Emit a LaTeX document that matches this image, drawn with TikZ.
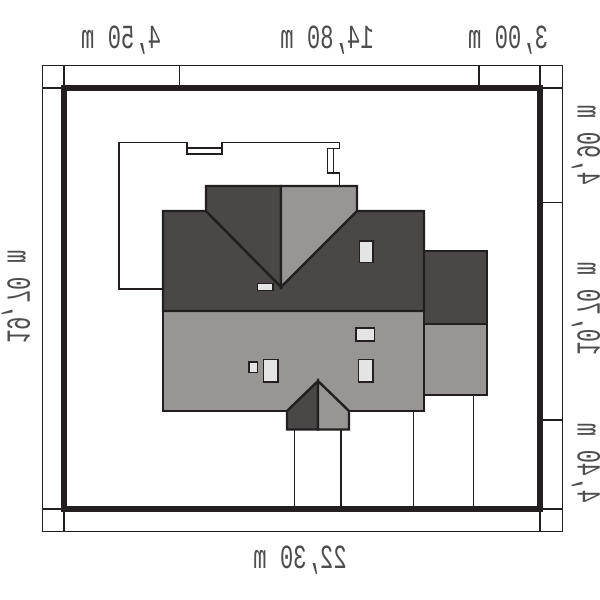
\documentclass[tikz,border=0pt]{standalone}
\usepackage{fontspec}
\setmonofont{Liberation Mono}
\begin{document}
\begin{tikzpicture}[x=.1mm,y=-.1mm,
  roofline/.style={draw=linecol,line width=.24mm,line join=miter},
  dark roof/.style={roofline,fill=roofdark},
  light roof/.style={roofline,fill=rooflight},
  roofwindow/.style={draw=linecol,line width=.17mm,fill=glass},
  thin line/.style={draw=linecol,line width=.16mm},
  dim label/.style={font=\ttfamily\fontsize{9.6}{12}\selectfont,text=linecol!80,inner sep=0pt,transform shape},
  top label/.style={dim label,xscale=-.66},
  side label/.style={dim label,rotate=90,xscale=.66,yscale=-1}]
  \definecolor{linecol}{HTML}{231F20}
  \definecolor{roofdark}{HTML}{4A4746}
  \definecolor{rooflight}{HTML}{979695}
  \definecolor{glass}{HTML}{E4E4E4}
  \useasboundingbox (0,0) rectangle (600,600);

  % labels
  \node[top label] (w1) at (121,40) {4,50 m};
  \node[top label] (w2) at (327,40) {14,80 m};
  \node[top label] (w3) at (508,40) {3,00 m};
  \node[top label] (w4) at (300,560) {22,30 m};
  \node[side label] (h1) at (16,297) {19,70 m};
  \node[side label] (r1) at (586,145) {4,90 m};
  \node[side label] (r2) at (586,309) {10,70 m};
  \node[side label] (r3) at (586,463) {4,40 m};

  % plot frame
  \draw[thin line] (42.5,65.5) rectangle (562.5,531.5);
  \draw[thin line] (64,65.5) -- (64,88) (540,65.5) -- (540,88)
   (64,509) -- (64,531.5) (540,509) -- (540,531.5)
   (42.5,88) -- (64,88) (540,88) -- (562.5,88)
   (42.5,509) -- (64,509) (540,509) -- (562.5,509)
   (179.5,65.5) -- (179.5,88) (479,65.5) -- (479,88)
   (540,202.5) -- (562.5,202.5) (540,420) -- (562.5,420);
  \draw[draw=linecol,line width=.6mm] (64,88) rectangle (540,509);

  % terrace
  \draw[thin line] (163,289) -- (119,289) -- (119,142.5) -- (339.5,142.5) -- (339.5,186);
  \draw[thin line,fill=white] (187,142.5) -- (187,154) -- (222,154) -- (222,142.5);
  \draw[thin line] (187,148) -- (222,148);
  \draw[thin line,fill=white] (339.5,148.5) -- (327.5,148.5) -- (327.5,173) -- (339.5,173);
  \draw[thin line] (333.5,148.5) -- (333.5,173);

  % lines down to the plot edge
  \draw[thin line] (294.5,429) -- (294.5,509) (341,429) -- (341,509)
   (413.5,411) -- (413.5,509) (473.5,395) -- (473.5,509);

  % roof
  \path[dark roof] (424,251) rectangle (487,324);
  \path[light roof] (424,324) rectangle (487,395);
  \path[light roof] (163,311) rectangle (424,411);
  \path[dark roof] (163,211) -- (206,211) -- (281,287) -- (357,211) -- (424,211) -- (424,311) -- (163,311) -- cycle;
  \path[dark roof] (206,211) -- (206,186) -- (281,186) -- (281,287) -- cycle;
  \path[light roof] (281,186) -- (357,186) -- (357,211) -- (281,287) -- cycle;
  \path[dark roof] (287,411) -- (318,381) -- (318,429.5) -- (287,429.5) -- cycle;
  \path[light roof] (318,381) -- (349,411) -- (349,429.5) -- (318,429.5) -- cycle;

  % windows
  \path[roofwindow] (257.5,283.5) rectangle (273,290.5);
  \path[roofwindow] (359.5,241) rectangle (373,262.5);
  \path[roofwindow] (356,328) rectangle (374.5,341);
  \path[roofwindow] (358.5,359.5) rectangle (373,382);
  \path[roofwindow] (263.5,359.5) rectangle (278,382);
  \path[roofwindow] (249,362) rectangle (257.5,372.5);
\end{tikzpicture}
\end{document}
